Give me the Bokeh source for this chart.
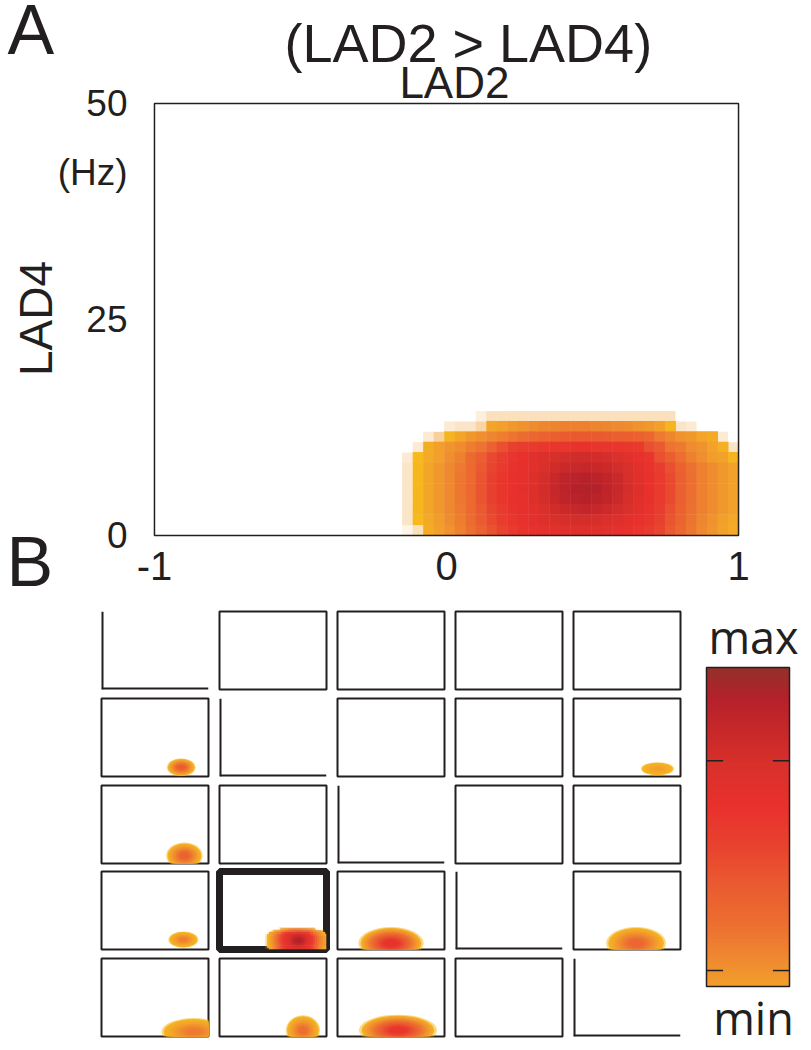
import math
from bokeh.plotting import figure
from bokeh.models import Range1d, FixedTicker, ColumnDataSource
from bokeh.layouts import row, column
from bokeh.embed import file_html
from bokeh.resources import INLINE
from bokeh.core.properties import value

FONT = "Liberation Sans"
INK = "#231F20"

# ---------------- data ----------------
lad2_ticks = [-1, 0, 1]          # x axis (LAD2)
lad2_labels = {-1: "-1", 0: "0", 1: "1"}
lad4_ticks = [0, 25, 50]         # y axis (LAD4, Hz)
unit_label = "(Hz)"

# Panel A heat-map grid: first column's left edge, column width, row height (Hz)
cell_x0 = -0.152
cell_dx = 0.036
cell_dy = 1.2

# Panel A cell levels, top row first (0 = empty, 1-9 = faded, 10-100 = colour scale)
power_rows = [
    [0, 0, 0, 0, 0, 0, 0, 3, 6, 6, 6, 6, 6, 6, 6, 6, 6, 6, 6, 6, 6, 6, 6, 6, 6, 6, 0, 0, 0, 0, 0, 0],
    [0, 0, 0, 0, 4, 5, 5, 8, 18, 20, 22, 24, 26, 28, 29, 30, 30, 30, 29, 28, 27, 26, 24, 22, 20, 12, 5, 4, 0, 0, 0, 0],
    [0, 0, 4, 9, 12, 18, 22, 25, 28, 31, 34, 37, 40, 42, 44, 45, 46, 46, 46, 45, 44, 44, 42, 40, 32, 28, 24, 22, 18, 16, 4, 0],
    [0, 4, 15, 20, 23, 26, 31, 34, 42, 50, 56, 58, 60, 61, 62, 63, 64, 64, 63, 62, 62, 61, 60, 50, 46, 34, 32, 26, 24, 19, 14, 5],
    [4, 10, 16, 20, 25, 30, 38, 44, 52, 58, 63, 66, 70, 73, 76, 78, 80, 80, 79, 77, 74, 70, 66, 62, 50, 44, 36, 30, 25, 21, 19, 12],
    [5, 11, 18, 22, 27, 32, 38, 46, 54, 60, 64, 67, 70, 75, 80, 83, 84, 85, 84, 82, 79, 75, 70, 65, 58, 50, 42, 35, 30, 26, 22, 19],
    [5, 11, 18, 22, 27, 33, 38, 48, 56, 62, 66, 68, 72, 78, 84, 88, 90, 91, 90, 87, 83, 77, 71, 66, 60, 52, 43, 36, 30, 26, 22, 19],
    [5, 11, 18, 22, 27, 33, 39, 48, 56, 62, 66, 69, 73, 79, 85, 89, 92, 93, 92, 88, 84, 78, 72, 66, 60, 52, 43, 36, 30, 26, 22, 19],
    [5, 11, 18, 22, 27, 33, 38, 48, 56, 62, 66, 68, 72, 78, 84, 88, 90, 91, 90, 87, 83, 77, 71, 66, 60, 52, 43, 36, 30, 26, 22, 19],
    [5, 11, 18, 22, 27, 32, 38, 46, 54, 60, 64, 67, 70, 76, 80, 83, 85, 86, 85, 82, 79, 75, 70, 65, 58, 50, 42, 35, 30, 26, 22, 19],
    [5, 10, 17, 21, 26, 31, 37, 45, 52, 58, 63, 66, 69, 72, 75, 77, 78, 78, 77, 75, 72, 69, 66, 62, 56, 48, 41, 34, 28, 24, 20, 17],
    [2, 6, 15, 20, 24, 30, 36, 42, 49, 55, 60, 64, 66, 68, 70, 71, 72, 72, 71, 70, 68, 66, 63, 60, 54, 46, 40, 33, 27, 23, 19, 16],
]

# Panel B: 5x5 matrix of pairs; blobs
highlight_cell = (4, 2)          # (row, col) shown enlarged in panel A
blob_row = [2, 2, 3, 4, 4, 4, 5, 5, 5]
blob_col = [1, 5, 1, 1, 3, 5, 1, 2, 3]
blob_x = [0.49, 0.57, 0.55, 0.53, 0.00, 0.17, 0.72, 0.56, 0.13]
blob_hw = [0.27, 0.31, 0.34, 0.28, 0.61, 0.56, 0.60, 0.32, 0.73]
blob_f = [5.9, 4.9, 5.0, 6.3, 4.0, 4.0, 3.0, 4.0, 4.0]
blob_hh = [5.8, 4.3, 8.5, 5.3, 10.5, 10.5, 8.8, 9.6, 10.0]
blob_peak = [45, 20, 42, 30, 64, 40, 32, 36, 62]

# colour bar: level range shown and the positions (0..1) of the min / max marks
cbar_levels = (20, 100)
cbar_marks = [0.05, 0.708]
cbar_text = ["max", "min"]

# ---------------- colour scale ----------------
pal_lv = [10, 18, 26, 36, 46, 56, 66, 76, 84, 92, 100]
pal_hex = ["#F7B91C", "#F3A52A", "#EF8C30", "#EC6E30", "#EA5A30", "#E8402E",
           "#E8302C", "#D8302B", "#C8282A", "#B5212A", "#93302A"]


def _rgb(h):
    return tuple(int(h[i:i + 2], 16) for i in (1, 3, 5))


def level_color(v):
    v = max(pal_lv[0], min(pal_lv[-1], v))
    for k in range(len(pal_lv) - 1):
        if v <= pal_lv[k + 1]:
            t = (v - pal_lv[k]) / (pal_lv[k + 1] - pal_lv[k])
            a, b = _rgb(pal_hex[k]), _rgb(pal_hex[k + 1])
            return "#%02x%02x%02x" % tuple(round(x + (y - x) * t) for x, y in zip(a, b))
    return pal_hex[-1]


def heat_source(ex, ey):
    """Cells as quads; opaque cells overlap their neighbours by (ex, ey) to hide seams."""
    faded = dict(left=[], right=[], bottom=[], top=[], color=[], alpha=[])
    solid = dict(left=[], right=[], bottom=[], top=[], color=[], alpha=[])
    n = len(power_rows)
    for r, vals in enumerate(power_rows):
        yb = (n - 1 - r) * cell_dy
        for c, v in enumerate(vals):
            if v <= 0:
                continue
            xl = cell_x0 + c * cell_dx
            if v < 10:
                d = faded
                d["right"].append(xl + cell_dx)
                d["top"].append(yb + cell_dy)
                d["color"].append("#F2A035")
                d["alpha"].append(v * 0.055)
            else:
                d = solid
                d["right"].append(min(1.0, xl + cell_dx + ex))
                d["top"].append(yb + cell_dy + ey)
                d["color"].append(level_color(v))
                d["alpha"].append(1.0)
            d["left"].append(xl)
            d["bottom"].append(yb)
    return ColumnDataSource(faded), ColumnDataSource(solid)


def draw_heat(p, ex, ey):
    for src in heat_source(ex, ey):
        p.quad(left="left", right="right", bottom="bottom", top="top", source=src,
               fill_color="color", fill_alpha="alpha", line_color=None)


def no_align(p):
    if "frame_align" in p.properties():
        p.frame_align = False
    return p


def bare_figure(w, h, xr, yr):
    p = figure(width=w, height=h, x_range=Range1d(*xr), y_range=Range1d(*yr),
               x_axis_location=None, y_axis_location=None,
               output_backend="svg", toolbar_location=None, min_border=0)
    p.grid.grid_line_color = None
    p.outline_line_color = None
    p.background_fill_color = "white"
    p.border_fill_color = "white"
    return no_align(p)


def put_text(p, fx, fy, px, base_py, txt, size, align="left", angle=0.0, font=FONT):
    """Place text whose baseline is at page pixel base_py (vertical-middle anchoring)."""
    mid = 0.36 * size
    if angle:
        x, y = fx(px - mid), fy(base_py)
    else:
        x, y = fx(px), fy(base_py - mid)
    p.text(x=[x], y=[y], text=[txt], text_font=value(font), text_font_size=value(f"{size}px"),
           text_align=align, text_baseline="middle", angle=angle, text_color=INK)


# ---------------- panel A geometry (page pixels) ----------------
FL, FR, FT, FB = 148, 738, 103, 535      # box of panel A
PX_X = (FR - FL) / 2.0                   # px per LAD2 unit
PX_Y = (FB - FT) / 50.0                  # px per Hz
TOP_H = 598                              # height of the panel-A block
LEFT_W = 54                              # width of the left label strip
PAD = 3                                  # frame slack around the drawn box


def dx_(px):
    return -1 + (px - FL) / PX_X


def dy_(py):
    return (FB - py) / PX_Y


# left strip (page x 0..54) holding "A", the LAD4 label and "B"
lft = bare_figure(LEFT_W, TOP_H, (dx_(0), dx_(LEFT_W)), (dy_(TOP_H), dy_(0)))
put_text(lft, dx_, dy_, 7, 55, "A", 70)
put_text(lft, dx_, dy_, 52, 318, "LAD4", 46, align="center", angle=math.pi / 2)
put_text(lft, dx_, dy_, 6, 587, "B", 70)

# main panel A; its frame reaches the top of the page so the titles sit inside it
pA = figure(width=811 - LEFT_W, height=TOP_H,
            x_range=Range1d(dx_(FL - PAD), dx_(FR + PAD)),
            y_range=Range1d(dy_(FB + PAD), dy_(0)),
            output_backend="svg", toolbar_location=None,
            min_border_left=FL - PAD - LEFT_W, min_border_right=811 - FR - PAD,
            min_border_top=0, min_border_bottom=TOP_H - FB - PAD)
no_align(pA)
pA.grid.grid_line_color = None
pA.outline_line_color = None
pA.background_fill_color = "white"
pA.border_fill_color = "white"
draw_heat(pA, 0.5 / PX_X, 0.5 / PX_Y)
pA.quad(left=[-1], right=[1], bottom=[0], top=[50], fill_color=None, line_color=INK,
        line_width=1.5)
put_text(pA, dx_, dy_, 465, 62, "(LAD2 > LAD4)", 54, align="center")
put_text(pA, dx_, dy_, 451, 98, "LAD2", 44, align="center")

hz_pos = dy_(172)
pA.xaxis.ticker = FixedTicker(ticks=lad2_ticks)
pA.xaxis.major_label_overrides = lad2_labels
pA.yaxis.ticker = FixedTicker(ticks=lad4_ticks + [hz_pos])
pA.yaxis.major_label_overrides = {hz_pos: unit_label}
for ax in (pA.xaxis[0], pA.yaxis[0]):
    ax.axis_line_color = None
    ax.major_tick_line_color = None
    ax.minor_tick_line_color = None
    ax.major_label_text_font = FONT
    ax.major_label_text_color = INK
pA.xaxis.major_label_text_font_size = "40px"
pA.xaxis.major_label_standoff = 10 - PAD
pA.yaxis.major_label_text_font_size = "37px"
pA.yaxis.major_label_standoff = 21 - PAD

top_block = row(lft, pA, spacing=0)

# ---------------- panel B ----------------
row_top = [13, 4, 4, 4, 4]
row_bottom = [5, 5, 4, 5, 8]
SP_W, SP_H = 107, 78


def draw_blob(p, cx, cy, hw, hh, peak):
    n = 12
    d = dict(x=[], y=[], w=[], h=[], c=[], a=[])
    for k in range(n):
        s = 1.0 - 0.85 * k / n
        lv = 10 + (peak - 10) * k / (n - 1)
        d["x"].append(cx)
        d["y"].append(cy)
        d["w"].append(2 * hw * s)
        d["h"].append(2 * hh * s)
        d["c"].append(level_color(lv))
        d["a"].append(0.55 if k == 0 else 1.0)
    p.ellipse(x="x", y="y", width="w", height="h", fill_color="c", fill_alpha="a",
              line_color=None, source=ColumnDataSource(d))


def small_panel(i, j):
    left = 101 if j == 1 else 5
    p = figure(width=SP_W + left + 6, height=SP_H + row_top[i - 1] + row_bottom[i - 1],
               x_range=Range1d(-1, 1), y_range=Range1d(0, 50),
               x_axis_location=None, y_axis_location=None,
               output_backend="svg", toolbar_location=None,
               min_border_left=left, min_border_right=6,
               min_border_top=row_top[i - 1], min_border_bottom=row_bottom[i - 1])
    no_align(p)
    p.grid.grid_line_color = None
    p.background_fill_color = "white"
    p.border_fill_color = "white"
    if i == j:
        p.outline_line_color = None
        p.segment(x0=[-1, -1], y0=[0, 0], x1=[1, -1], y1=[0, 50], line_color=INK, line_width=4)
    else:
        p.outline_line_color = INK
        p.outline_line_width = 7 if (i, j) == highlight_cell else 2
    if (i, j) == highlight_cell:
        draw_heat(p, 0.6 * 2 / SP_W, 0.6 * 50 / SP_H)
    for k in range(len(blob_row)):
        if blob_row[k] == i and blob_col[k] == j:
            draw_blob(p, blob_x[k], blob_f[k], blob_hw[k], blob_hh[k], blob_peak[k])
    return p


grid_rows = [row(*[small_panel(i, j) for j in range(1, 6)], spacing=0) for i in range(1, 6)]
grid_block = column(*grid_rows, spacing=0)

# colour bar (page x 686..811, below panel A); bar itself spans page x 706..789, y 667..986
CBL, CBR, CBT, CBB = 706, 789, 667, 986
b_h = sum(row_top) + sum(row_bottom) + 5 * SP_H


def cx_(px):
    return (px - CBL) / (CBR - CBL)


def cy_(py):
    return (CBB - py) / (CBB - CBT)


cb = bare_figure(811 - 686, b_h, (cx_(686), cx_(811)), (cy_(TOP_H + b_h), cy_(TOP_H)))
nseg = 160
lo, hi = cbar_levels
cols = [level_color(lo + (hi - lo) * (k + 0.5) / nseg) for k in range(nseg)]
cb.quad(left=0, right=1, bottom=[k / nseg for k in range(nseg)],
        top=[min(1.0, (k + 1.8) / nseg) for k in range(nseg)], fill_color=cols, line_color=None)
cb.quad(left=[0], right=[1], bottom=[0], top=[1], fill_color=None, line_color=INK,
        line_width=1.5)
cb.segment(x0=[0, 0.8, 0, 0.8], x1=[0.2, 1, 0.2, 1],
           y0=[cbar_marks[0], cbar_marks[0], cbar_marks[1], cbar_marks[1]],
           y1=[cbar_marks[0], cbar_marks[0], cbar_marks[1], cbar_marks[1]],
           line_color=INK, line_width=1.5)
put_text(cb, cx_, cy_, 753, 652, cbar_text[0], 45, align="center", font="Open Sans")
put_text(cb, cx_, cy_, 753, 1033, cbar_text[1], 45, align="center", font="Open Sans")

panelB = row(grid_block, cb, spacing=0)
layout = column(top_block, panelB, spacing=0)

open("out.html", "w").write(file_html(layout, INLINE))
